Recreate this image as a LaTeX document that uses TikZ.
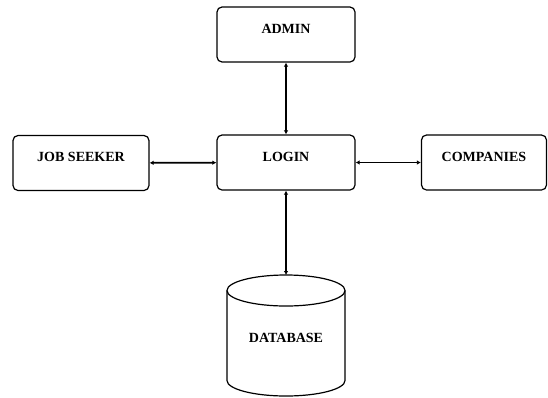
\documentclass[tikz,border=0pt]{standalone}
\usepackage{fontspec}
\setmainfont{Liberation Serif}
\usetikzlibrary{arrows.meta}
\tikzset{
  box/.style={draw,line width=1.2pt,rounded corners=5pt,minimum height=55pt,
    font=\fontsize{14}{16}\selectfont\bfseries,text height=9.5pt,text depth=12.5pt},
  link/.style={line width=1.8pt,{Latex[length=4pt,width=4.5pt]}-{Latex[length=4pt,width=4.5pt]}}
}
\begin{document}
\begin{tikzpicture}[x=1pt,y=-1pt]
    \useasboundingbox (0,0) rectangle (548,397);
    \node[box,minimum width=138pt] (admin) at (286,34.5) {ADMIN};
    \node[box,minimum width=138pt] (login) at (286,162.5) {LOGIN};
    \node[box,minimum width=136pt] (seeker) at (81,163) {JOB SEEKER};
    \node[box,minimum width=125pt] (comp) at (484,162.5) {COMPANIES};
    % database cylinder
    \draw[line width=1.2pt] (286,290.5) ellipse [x radius=59,y radius=15.5];
    \draw[line width=1.2pt] (227,290.5) -- (227,380.5)
      arc [start angle=180,end angle=360,x radius=59,y radius=-15.5] -- (345,290.5);
    \coordinate (dbtop) at (286,275);
    \node[font=\fontsize{14}{16}\selectfont\bfseries] (db) at (286,338) {DATABASE};
    \draw[link] (admin) -- (login);
    \draw[link] (seeker) -- (login);
    \draw[link] (login) -- (comp);
    \draw[link] (login) -- (dbtop);
\end{tikzpicture}
\end{document}
